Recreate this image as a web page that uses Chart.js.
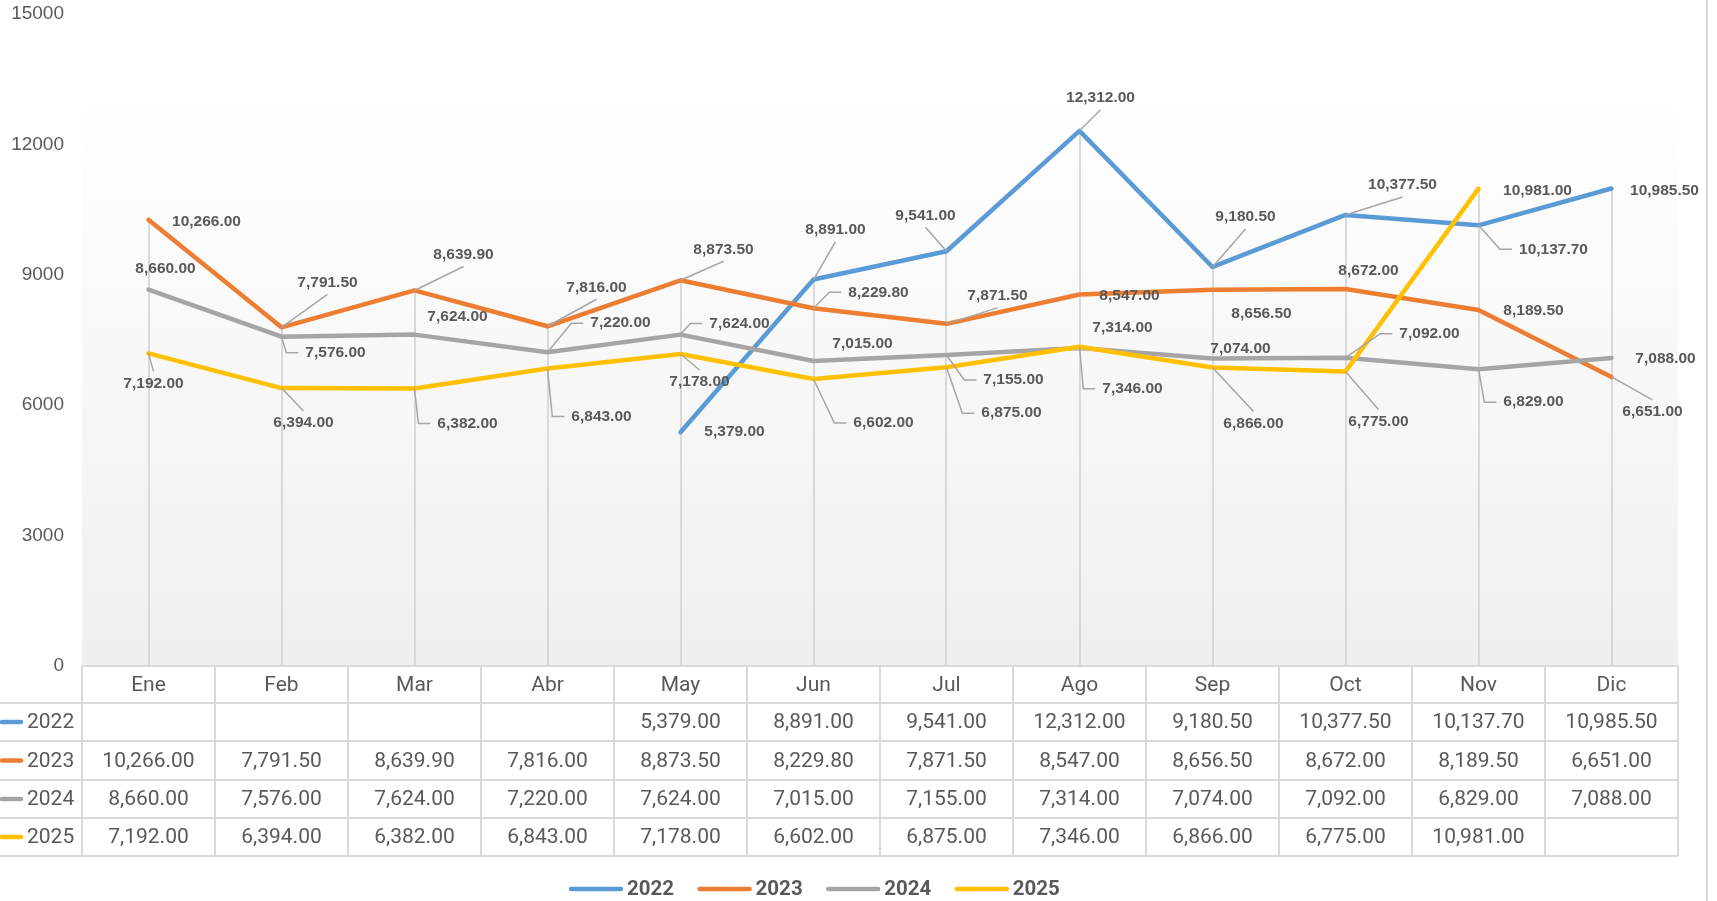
<!DOCTYPE html>
<html>
<head>
<meta charset="utf-8">
<title>Ventas mensuales</title>
<script src="https://cdn.jsdelivr.net/npm/chart.js@4.4.1/dist/chart.umd.min.js"></script>
<style>
  html, body { margin: 0; padding: 0; background: #fff; }
  #wrap { position: relative; width: 1717px; height: 901px; }
  #wrap:after { content: ""; position: absolute; left: 1706px; top: 0; width: 2px; height: 901px; background: #d9d9d9; }
</style>
</head>
<body>
<div id="wrap"><canvas id="chart" width="1717" height="901"></canvas></div>
<script>
// datos
const months = ["Ene", "Feb", "Mar", "Abr", "May", "Jun", "Jul", "Ago", "Sep", "Oct", "Nov", "Dic"];
const years = ["2022", "2023", "2024", "2025"];
const ventas2022 = [null, null, null, null, 5379, 8891, 9541, 12312, 9180.5, 10377.5, 10137.7, 10985.5];
const ventas2023 = [10266, 7791.5, 8639.9, 7816, 8873.5, 8229.8, 7871.5, 8547, 8656.5, 8672, 8189.5, 6651];
const ventas2024 = [8660, 7576, 7624, 7220, 7624, 7015, 7155, 7314, 7074, 7092, 6829, 7088];
const ventas2025 = [7192, 6394, 6382, 6843, 7178, 6602, 6875, 7346, 6866, 6775, 10981, null];
const yMax = 15000;
const yStep = 3000;

// colores
const colors = ["#5b9bd5", "#ed7d31", "#a5a5a5", "#ffc000"];
const textGray = "#595959";
const lineGray = "#d9d9d9";

// posición de etiquetas (desplazamiento respecto al punto) y tipo de guía
const off2022 = [null, null, null, null, [54, 0], [22, -50], [-21, -36], [21, -33], [33, -50], [57, -30], [75, 24], [53, 2]];
const off2023 = [[58, 2], [46, -45], [49, -36], [49, -39], [43, -31], [65, -16], [51, -28], [50, 1], [49, 24], [23, -18], [55, 1], [41, 35]];
const off2024 = [[17, -21], [54, 16], [43, -18], [73, -29], [59, -11], [49, -17], [67, 25], [43, -20], [28, -10], [84, -24], [55, 33], [54, 1]];
const off2025 = [[5, 30], [22, 35], [53, 35], [54, 48], [19, 28], [70, 44], [65, 46], [53, 42], [41, 56], [33, 50], [59, 2], null];
const lead2022 = ["", "", "", "", "", "d", "d", "d", "d", "d", "e", ""];
const lead2023 = ["", "d", "d", "d", "d", "e", "d", "", "", "", "", "d"];
const lead2024 = ["", "e", "", "e", "e", "", "e", "", "", "e", "e", ""];
const lead2025 = ["d", "d", "e", "e", "d", "e", "e", "e", "d", "d", "", ""];

const series = [ventas2022, ventas2023, ventas2024, ventas2025];
const offsets = [off2022, off2023, off2024, off2025];
const leaders = [lead2022, lead2023, lead2024, lead2025];

const fmt = (v) => v.toLocaleString("en-US", { minimumFractionDigits: 2, maximumFractionDigits: 2 });

const plotTop = 99;
const rowH = [37, 38, 39, 38, 38];
const tableFont = "21px Roboto, 'Open Sans', sans-serif";

// fondo degradado + líneas de proyección
const backdropPlugin = {
  id: "backdrop",
  beforeDatasetsDraw(chart) {
    const { ctx, chartArea } = chart;
    const g = ctx.createLinearGradient(0, plotTop, 0, chartArea.bottom);
    g.addColorStop(0, "#ffffff");
    g.addColorStop(1, "#efefef");
    ctx.save();
    ctx.fillStyle = g;
    ctx.fillRect(chartArea.left, plotTop, chartArea.right - chartArea.left, chartArea.bottom - plotTop);

    const x = chart.scales.x;
    const y = chart.scales.y;
    ctx.strokeStyle = lineGray;
    ctx.lineWidth = 2;
    months.forEach((m, i) => {
      const vals = series.map((s) => s[i]).filter((v) => v != null);
      const top = y.getPixelForValue(Math.max(...vals));
      const px = Math.round(x.getPixelForValue(i));
      ctx.beginPath();
      ctx.moveTo(px, top);
      ctx.lineTo(px, chartArea.bottom);
      ctx.stroke();
    });
    ctx.restore();
  }
};

// etiquetas de datos con líneas guía
const labelsPlugin = {
  id: "valueLabels",
  afterDatasetsDraw(chart) {
    const { ctx } = chart;
    ctx.save();
    ctx.font = "bold 15.5px 'Liberation Sans', Arial, sans-serif";
    ctx.textAlign = "center";
    ctx.textBaseline = "middle";
    series.forEach((data, si) => {
      const meta = chart.getDatasetMeta(si);
      data.forEach((v, i) => {
        if (v == null || !offsets[si][i]) return;
        const pt = meta.data[i];
        const [dx, dy] = offsets[si][i];
        const cx = pt.x + dx;
        const cy = pt.y + dy;
        const txt = fmt(v);
        const w = ctx.measureText(txt).width;
        const kind = leaders[si][i];
        ctx.strokeStyle = "#a6a6a6";
        ctx.lineWidth = 1.5;
        if (kind === "d") {
          const ey = dy < 0 ? cy + 12 : cy - 12;
          ctx.beginPath();
          ctx.moveTo(pt.x, pt.y);
          ctx.lineTo(cx, ey);
          ctx.stroke();
        } else if (kind === "e") {
          const left = cx - w / 2;
          const corner = Math.max(pt.x + 3, left - 19);
          ctx.beginPath();
          ctx.moveTo(pt.x, pt.y);
          ctx.lineTo(corner, cy);
          ctx.lineTo(left - 7, cy);
          ctx.stroke();
        }
        ctx.fillStyle = textGray;
        ctx.fillText(txt, cx, cy);
      });
    });
    ctx.restore();
  }
};

// tabla de datos y leyenda
const tablePlugin = {
  id: "dataTable",
  afterDraw(chart) {
    const { ctx, chartArea } = chart;
    const x = chart.scales.x;
    const colW = (chartArea.right - chartArea.left) / months.length;
    const ys = [chartArea.bottom];
    rowH.forEach((h) => ys.push(ys[ys.length - 1] + h));

    ctx.save();
    ctx.fillStyle = "#ffffff";
    ctx.fillRect(chartArea.left, ys[0], chartArea.right - chartArea.left, ys[ys.length - 1] - ys[0]);

    ctx.strokeStyle = lineGray;
    ctx.lineWidth = 2;
    ctx.beginPath();
    ctx.moveTo(chartArea.left, ys[0]);
    ctx.lineTo(chartArea.right, ys[0]);
    for (let r = 1; r < ys.length; r++) {
      ctx.moveTo(0, ys[r]);
      ctx.lineTo(chartArea.right, ys[r]);
    }
    for (let c = 0; c <= months.length; c++) {
      const cx = Math.round(chartArea.left + c * colW);
      ctx.moveTo(cx, ys[0]);
      ctx.lineTo(cx, ys[ys.length - 1]);
    }
    ctx.stroke();

    ctx.font = tableFont;
    ctx.fillStyle = textGray;
    ctx.textAlign = "center";
    ctx.textBaseline = "middle";
    months.forEach((m, i) => {
      const px = x.getPixelForValue(i);
      ctx.fillText(m, px, (ys[0] + ys[1]) / 2 + 1);
      series.forEach((s, si) => {
        if (s[i] == null) return;
        ctx.fillText(fmt(s[i]), px, (ys[si + 1] + ys[si + 2]) / 2 + 1);
      });
    });

    years.forEach((yr, si) => {
      const cy = (ys[si + 1] + ys[si + 2]) / 2;
      ctx.strokeStyle = colors[si];
      ctx.lineWidth = 4.5;
      ctx.lineCap = "round";
      ctx.beginPath();
      ctx.moveTo(2, cy);
      ctx.lineTo(21, cy);
      ctx.stroke();
      ctx.fillStyle = textGray;
      ctx.textAlign = "left";
      ctx.fillText(yr, 27, cy + 1);
    });

    // leyenda inferior
    const legendY = 889;
    let lx = 569;
    ctx.font = "bold 20.5px Roboto, 'Liberation Sans', sans-serif";
    ctx.textAlign = "left";
    years.forEach((yr, si) => {
      ctx.strokeStyle = colors[si];
      ctx.lineWidth = 4.5;
      ctx.beginPath();
      ctx.moveTo(lx + 2, legendY);
      ctx.lineTo(lx + 52, legendY);
      ctx.stroke();
      ctx.fillStyle = textGray;
      ctx.fillText(yr, lx + 58, legendY + 1);
      lx += 128.6;
    });
    ctx.restore();
  }
};

new Chart(document.getElementById("chart"), {
  type: "line",
  data: {
    labels: months,
    datasets: series.map((data, si) => ({
      label: years[si],
      data: data,
      borderColor: colors[si],
      backgroundColor: colors[si],
      borderWidth: 4.5,
      borderCapStyle: "round",
      borderJoinStyle: "round",
      pointRadius: 0,
      tension: 0,
      spanGaps: false,
      order: years.length - si
    }))
  },
  options: {
    responsive: false,
    animation: false,
    layout: { padding: { left: 0, top: 14, right: 39, bottom: 235 } },
    plugins: { legend: { display: false }, tooltip: { enabled: false } },
    scales: {
      x: { type: "category", offset: true, display: false },
      y: {
        min: 0,
        max: yMax,
        ticks: {
          stepSize: yStep,
          color: textGray,
          padding: 0,
          font: { family: "'Liberation Sans', Arial, sans-serif", size: 19 },
          callback: (v) => String(v)
        },
        grid: { display: false, drawTicks: true, tickLength: 18 },
        border: { display: false },
        afterFit: (s) => { s.width = 82; }
      }
    }
  },
  plugins: [backdropPlugin, labelsPlugin, tablePlugin]
});
</script>
</body>
</html>
